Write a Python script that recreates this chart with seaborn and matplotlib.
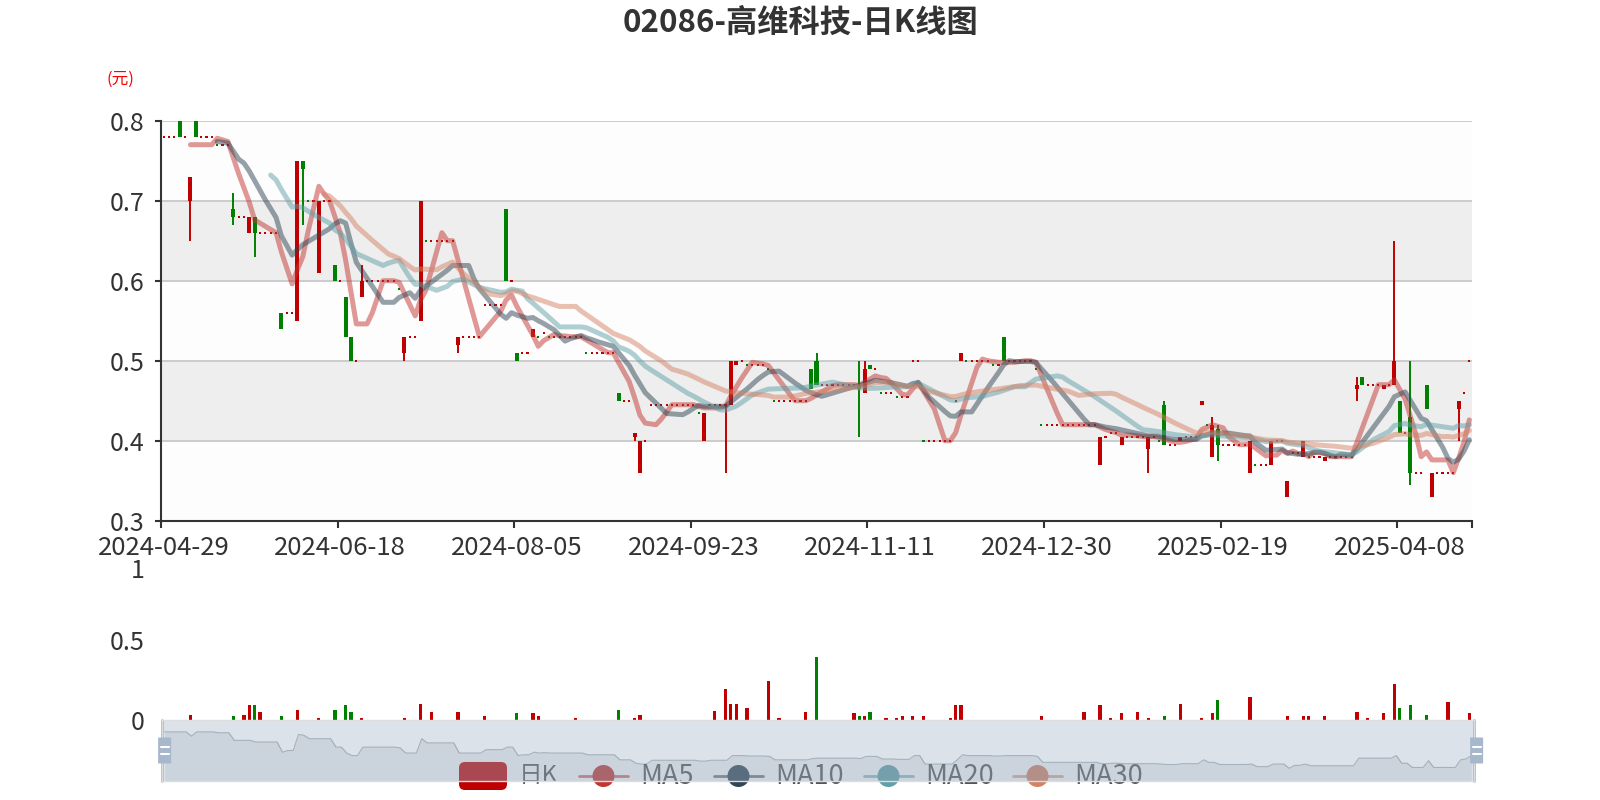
import numpy as np
import pandas as pd
import seaborn as sns
import matplotlib.pyplot as plt
import matplotlib.transforms as mtransforms
from matplotlib.patches import FancyBboxPatch, Circle

sns.set_theme(style="white")
plt.rcParams['font.family'] = ['Noto Sans CJK SC', 'DejaVu Sans']

# 日K数据 (开, 收, 低, 高), 2024-04-29 ~ 2025-04
open_ = [
    .78, .78, .78, .80, .78, .70, .80, .78, .78, .78,
    .77, .77, .77, .69, .68, .68, .66, .68, .66, .66,
    .66, .66, .56, .56, .56, .55, .75, .70, .70, .61,
    .70, .70, .62, .60, .58, .53, .50, .58, .60, .60,
    .60, .60, .60, .60, .59, .51, .53, .53, .55, .65,
    .65, .65, .65, .65, .65, .52, .53, .53, .53, .53,
    .57, .57, .57, .57, .69, .60, .51, .51, .51, .53,
    .53, .535, .53, .53, .53, .53, .53, .53, .53, .51,
    .51, .51, .51, .51, .51, .46, .45, .45, .405, .36,
    .40, .445, .445, .445, .445, .445, .445, .445, .445, .445,
    .435, .40, .445, .445, .445, .445, .445, .495, .50, .495,
    .495, .495, .495, .49, .45, .45, .45, .45, .45, .45,
    .45, .49, .50, .47, .47, .47, .47, .47, .47, .47,
    .47, .46, .495, .49, .46, .46, .46, .455, .455, .455,
    .50, .50, .40, .40, .40, .40, .40, .40, .45, .50,
    .50, .50, .50, .50, .50, .495, .495, .53, .50, .50,
    .50, .50, .50, .49, .42, .42, .42, .42, .42, .42,
    .42, .42, .42, .42, .42, .37, .405, .41, .41, .395,
    .405, .405, .405, .405, .39, .405, .40, .445, .395, .395,
    .40, .405, .405, .405, .445, .42, .38, .415, .395, .395,
    .395, .395, .395, .36, .37, .37, .37, .37, .40, .40,
    .33, .385, .385, .38, .38, .38, .38, .375, .38, .38,
    .38, .38, .38, .465, .48, .47, .47, .47, .465, .47,
    .47, .45, .41, .43, .36, .36, .47, .33, .36, .36,
    .36, .36, .44, .46, .50,
]
close = [
    .78, .78, .78, .78, .78, .73, .78, .78, .78, .78,
    .77, .77, .77, .68, .68, .68, .68, .66, .66, .66,
    .66, .66, .54, .56, .56, .75, .74, .70, .70, .70,
    .70, .70, .60, .60, .53, .50, .50, .60, .60, .60,
    .60, .60, .60, .60, .59, .53, .53, .53, .70, .65,
    .65, .65, .65, .65, .65, .53, .53, .53, .53, .53,
    .57, .57, .57, .57, .60, .60, .50, .51, .51, .54,
    .53, .535, .53, .53, .53, .53, .53, .53, .53, .51,
    .51, .51, .51, .51, .51, .45, .45, .45, .41, .40,
    .40, .445, .445, .445, .445, .445, .445, .445, .445, .445,
    .435, .435, .445, .445, .445, .445, .50, .50, .50, .495,
    .495, .495, .495, .49, .45, .45, .45, .45, .45, .45,
    .45, .465, .47, .47, .47, .47, .47, .47, .47, .47,
    .465, .49, .49, .49, .46, .46, .46, .455, .455, .455,
    .50, .50, .40, .40, .40, .40, .40, .40, .45, .51,
    .50, .50, .50, .50, .50, .495, .495, .50, .50, .50,
    .50, .50, .50, .49, .42, .42, .42, .42, .42, .42,
    .42, .42, .42, .42, .42, .405, .405, .41, .41, .405,
    .405, .405, .405, .405, .405, .405, .40, .395, .395, .395,
    .405, .405, .405, .405, .45, .42, .42, .395, .395, .395,
    .395, .395, .395, .40, .37, .37, .37, .40, .40, .40,
    .35, .385, .385, .40, .38, .38, .38, .38, .38, .38,
    .38, .38, .38, .47, .47, .47, .47, .47, .47, .47,
    .50, .41, .41, .36, .36, .36, .44, .36, .36, .36,
    .36, .36, .45, .46, .50,
]
low = [
    .78, .78, .78, .78, .78, .65, .78, .78, .78, .78,
    .77, .77, .77, .67, .68, .68, .66, .63, .66, .66,
    .66, .66, .54, .56, .56, .55, .67, .70, .70, .61,
    .70, .70, .60, .60, .53, .50, .50, .58, .60, .60,
    .60, .60, .60, .60, .59, .50, .53, .53, .55, .65,
    .65, .65, .65, .65, .65, .51, .53, .53, .53, .53,
    .57, .57, .57, .57, .60, .60, .50, .51, .51, .53,
    .53, .535, .53, .53, .53, .53, .53, .53, .53, .51,
    .51, .51, .51, .51, .51, .45, .45, .45, .40, .36,
    .40, .445, .445, .445, .445, .445, .445, .445, .445, .445,
    .435, .40, .445, .445, .445, .36, .445, .495, .50, .495,
    .495, .495, .495, .49, .45, .45, .45, .45, .45, .45,
    .45, .465, .47, .47, .47, .47, .47, .47, .47, .47,
    .405, .46, .49, .49, .46, .46, .46, .455, .455, .455,
    .50, .50, .40, .40, .40, .40, .40, .40, .45, .50,
    .50, .50, .50, .50, .50, .495, .495, .50, .50, .50,
    .50, .50, .50, .49, .42, .42, .42, .42, .42, .42,
    .42, .42, .42, .42, .42, .37, .405, .41, .41, .395,
    .405, .405, .405, .405, .36, .405, .40, .395, .395, .395,
    .40, .405, .405, .405, .445, .42, .38, .375, .395, .395,
    .395, .395, .395, .36, .37, .37, .37, .37, .40, .40,
    .33, .385, .385, .38, .38, .38, .38, .375, .38, .38,
    .38, .38, .38, .45, .47, .47, .47, .47, .465, .47,
    .47, .41, .41, .345, .36, .36, .44, .33, .36, .36,
    .36, .36, .40, .46, .50,
]
high = [
    .78, .78, .78, .80, .78, .73, .80, .78, .78, .78,
    .77, .77, .77, .71, .68, .68, .68, .68, .66, .66,
    .66, .66, .56, .56, .56, .75, .75, .70, .70, .70,
    .70, .70, .62, .60, .58, .53, .50, .62, .60, .60,
    .60, .60, .60, .60, .59, .53, .53, .53, .70, .65,
    .65, .65, .65, .65, .65, .53, .53, .53, .53, .53,
    .57, .57, .57, .57, .69, .60, .51, .51, .51, .54,
    .53, .535, .53, .53, .53, .53, .53, .53, .53, .51,
    .51, .51, .51, .51, .51, .46, .45, .45, .41, .40,
    .40, .445, .445, .445, .445, .445, .445, .445, .445, .445,
    .435, .435, .445, .445, .445, .445, .50, .50, .50, .495,
    .495, .495, .495, .49, .45, .45, .45, .45, .45, .45,
    .45, .49, .51, .47, .47, .47, .47, .47, .47, .47,
    .50, .50, .495, .49, .46, .46, .46, .455, .455, .455,
    .50, .50, .40, .40, .40, .40, .40, .40, .45, .51,
    .50, .50, .50, .50, .50, .495, .495, .53, .50, .50,
    .50, .50, .50, .49, .42, .42, .42, .42, .42, .42,
    .42, .42, .42, .42, .42, .405, .405, .41, .41, .405,
    .405, .405, .405, .405, .405, .405, .40, .45, .395, .395,
    .405, .405, .405, .405, .45, .42, .43, .42, .395, .395,
    .395, .395, .395, .40, .37, .37, .37, .40, .40, .40,
    .35, .385, .385, .40, .38, .38, .38, .38, .38, .38,
    .38, .38, .38, .48, .48, .47, .47, .47, .47, .47,
    .65, .45, .41, .50, .36, .36, .47, .36, .36, .36,
    .36, .36, .45, .46, .50,
]
volume = [
    0, 0, 0, 0, 0, .031, 0, 0, 0, 0,
    0, 0, 0, .021, 0, .031, .09, .09, .048, 0,
    0, 0, .021, 0, 0, .0625, 0, 0, 0, .01,
    0, 0, .0625, 0, .09, .048, 0, .01, 0, 0,
    0, 0, 0, 0, 0, .01, 0, 0, .1, 0,
    .048, 0, 0, 0, 0, .048, 0, 0, 0, 0,
    .021, 0, 0, 0, 0, 0, .042, 0, 0, .042,
    .021, 0, 0, 0, 0, 0, 0, .01, 0, 0,
    0, 0, 0, 0, 0, .0625, 0, 0, .01, .031,
    0, 0, 0, 0, 0, 0, 0, 0, 0, 0,
    0, 0, 0, .052, 0, .19, .1, .1, 0, .071,
    0, 0, 0, .244, 0, .01, 0, 0, 0, 0,
    .048, 0, .39, 0, 0, 0, 0, 0, 0, .042,
    .021, .021, .048, 0, 0, .01, 0, .01, .021, 0,
    .021, 0, .021, 0, 0, 0, 0, .01, .09, .09,
    0, 0, 0, 0, 0, 0, 0, 0, 0, 0,
    0, 0, 0, 0, .021, 0, 0, 0, 0, 0,
    0, 0, .048, 0, 0, .09, 0, .01, 0, .042,
    0, 0, .048, 0, .01, 0, 0, .021, 0, 0,
    .1, 0, 0, 0, .01, 0, .042, .12, 0, 0,
    0, 0, 0, .14, 0, 0, 0, 0, 0, 0,
    .021, 0, 0, .021, .021, 0, 0, .021, 0, 0,
    0, 0, 0, .048, 0, .01, 0, 0, .042, 0,
    .22, .071, 0, .09, 0, 0, .031, 0, 0, 0,
    .11, 0, 0, 0, .042,
]

tick_labels = ["2024-04-29", "2024-06-18", "2024-08-05", "2024-09-23",
               "2024-11-11", "2024-12-30", "2025-02-19", "2025-04-08"]
tick_pos = [0, 33, 66, 99, 132, 165, 198, 231]

ma_windows = [5, 10, 20, 30]
ma_colors = ["#c23531", "#2f4554", "#61a0a8", "#d48265"]
up_color = "#c00000"
down_color = "#008000"

df = pd.DataFrame({"open": open_, "close": close, "low": low,
                   "high": high, "volume": volume})
N = len(df)
df["idx"] = np.arange(N)
for n in ma_windows:
    ma = df["close"].rolling(n).mean()
    ma[df["idx"] < n] = np.nan
    df[f"MA{n}"] = ma

# 涨跌颜色 (平盘时与前一日收盘比较)
prev = df["close"].shift(1)
up = (df["close"] > df["open"]) | ((df["close"] == df["open"]) & ~(prev > df["close"]))
cndl_colors = np.where(up, up_color, down_color)
vol_colors = np.where(df["open"] > df["close"], down_color, up_color)

fig = plt.figure(figsize=(16, 8), dpi=100)
W, H = 1600, 800
ax = fig.add_axes([161 / W, 1 - 520.7 / H, 1311 / W, 400 / H])
ax_vol = fig.add_axes([161 / W, 1 - 719.5 / H, 1311 / W, 159.5 / H])
ax_leg = fig.add_axes([0, 0, 1, 1])
ax_sl = fig.add_axes([162 / W, 1 - 781 / H, 1312 / W, 61 / H])

# ---- 主图 ----
ax.set_xlim(-0.5, N - 0.5)
ax.set_ylim(0.3, 0.8)
for k, lo in enumerate(np.arange(0.3, 0.8, 0.1)):
    ax.axhspan(lo, lo + 0.1, color="#fdfdfd" if k % 2 == 0 else "#eeeeee",
               lw=0, zorder=0)
for v in [0.4, 0.5, 0.6, 0.7, 0.8]:
    ax.axhline(v, color="#cccccc", lw=1.4, zorder=0.5)

x = df["idx"].values
o = df["open"].values
c = df["close"].values
body_lo = np.minimum(o, c)
body_h = np.abs(c - o)
flat = body_h < 1e-9
wick = (df["high"].values - df["low"].values) > body_h + 1e-9

ax.vlines(x[wick], df["low"].values[wick], df["high"].values[wick],
          colors=cndl_colors[wick], lw=1.4, zorder=2)
ax.bar(x[~flat], body_h[~flat], bottom=body_lo[~flat], width=0.75,
       color=cndl_colors[~flat], lw=0, zorder=2)
ax.bar(x[flat], 0.0025, bottom=o[flat] - 0.00125, width=0.4,
       color=cndl_colors[flat], lw=0, zorder=2)

for n, col in zip(ma_windows, ma_colors):
    sns.lineplot(data=df, x="idx", y=f"MA{n}", ax=ax, color=col, alpha=0.5,
                 lw=3.6, zorder=3, legend=False)

ax.set_xlabel("")
ax.set_ylabel("")
for s in ["top", "right"]:
    ax.spines[s].set_visible(False)
for s in ["left", "bottom"]:
    ax.spines[s].set_color("#333333")
    ax.spines[s].set_linewidth(1.5)
ax.set_yticks([0.3, 0.4, 0.5, 0.6, 0.7, 0.8])
ax.set_yticklabels(["0.3", "0.4", "0.5", "0.6", "0.7", "0.8"])
ax.tick_params(axis="y", length=4, width=1.5, color="#333333", pad=8,
               labelsize=18, labelcolor="#333333", left=True)
ax.set_xticks(tick_pos)
ax.set_xticklabels(tick_labels)
ax.set_xticks([p - 0.5 for p in tick_pos] + [N - 0.5], minor=True)
ax.tick_params(axis="x", which="major", length=0, pad=10, labelsize=18.5,
               labelcolor="#333333")
ax.tick_params(axis="x", which="minor", length=5, width=1.5,
               color="#333333", bottom=True)

# ---- 成交量 ----
ax_vol.set_xlim(-0.5, N - 0.5)
ax_vol.set_ylim(0, 1)
ax_vol.bar(x, df["volume"].values, width=0.6, color=vol_colors, lw=0)
ax_vol.set_facecolor("none")
for s in ax_vol.spines.values():
    s.set_visible(False)
ax_vol.set_xticks([])
ax_vol.set_yticks([0, 0.5, 1])
ax_vol.set_yticklabels(["0", "0.5", "1"])
ax_vol.tick_params(axis="y", length=0, pad=12, labelsize=18,
                   labelcolor="#333333")
# 顶部 "1" 与日期标签挤在一起, 稍微下移
top_lbl = ax_vol.get_yticklabels()[2]
top_lbl.set_transform(top_lbl.get_transform() +
                      mtransforms.ScaledTranslation(0, -8 / 100, fig.dpi_scale_trans))

# ---- 图例 ----
ax_leg.set_xlim(0, W)
ax_leg.set_ylim(H, 0)
ax_leg.axis("off")
ax_leg.set_zorder(5)
ax_leg.patch.set_alpha(0)
leg_y = 776
leg_x = [459, 579, 714, 864, 1013]
ax_leg.add_patch(FancyBboxPatch((leg_x[0], leg_y - 14), 48, 28,
                                boxstyle="round,pad=0,rounding_size=6",
                                color=up_color, lw=0))
ax_leg.text(leg_x[0] + 60, leg_y, "日K", fontsize=17, color="#555555",
            va="center", ha="left")
for lx, n, col in zip(leg_x[1:], ma_windows, ma_colors):
    ax_leg.plot([lx, lx + 49], [leg_y, leg_y], color=col, lw=2, alpha=0.7)
    ax_leg.add_patch(Circle((lx + 24.5, leg_y), 11, color=col, lw=0))
    ax_leg.text(lx + 61, leg_y, f"MA{n}", fontsize=19.5, color="#555555",
                va="center", ha="left")

# ---- 数据缩放滑块 ----
ax_sl.set_zorder(10)
ax_sl.set_xlim(-0.5, N - 0.5)
ax_sl.set_ylim(0.20, 0.92)
ax_sl.set_facecolor((167 / 255, 183 / 255, 204 / 255, 0.4))
ax_sl.fill_between(x, c, 0.20, color="#2f4554", alpha=0.09, lw=0)
sns.lineplot(data=df, x="idx", y="close", ax=ax_sl, color="#2f4554",
             alpha=0.3, lw=0.8, legend=False)
ax_sl.set_xlabel("")
ax_sl.set_ylabel("")
ax_sl.set_xticks([])
ax_sl.set_yticks([])
for s in ax_sl.spines.values():
    s.set_color("#dddddd")
    s.set_linewidth(1)
for ex in [-0.5, N - 0.5]:
    ax_sl.axvline(ex, color="#a7b7cc", lw=2, clip_on=False)
hw, hh = 13 / 1312, 26 / 61
for hx in [0.002, 1.002]:
    ax_sl.add_patch(FancyBboxPatch((hx - hw / 2, 0.5 - hh / 2), hw, hh,
                                   boxstyle="round,pad=0,rounding_size=0.003",
                                   transform=ax_sl.transAxes, clip_on=False,
                                   color="#a7b7cc", lw=0, zorder=5))
    for hy in [0.44, 0.56]:
        ax_sl.plot([hx - hw * 0.3, hx + hw * 0.3], [hy, hy], color="white",
                   lw=1.5, transform=ax_sl.transAxes, clip_on=False, zorder=6)

fig.text(0.5, 1 - 22.5 / H, "02086-高维科技-日K线图", ha="center", va="center",
         fontsize=22.5, fontweight="bold", color="#333333")
fig.text(120 / W, 1 - 79 / H, "(元)", ha="center", va="center",
         fontsize=12, color="red")

fig.savefig("out.png", dpi=100)
